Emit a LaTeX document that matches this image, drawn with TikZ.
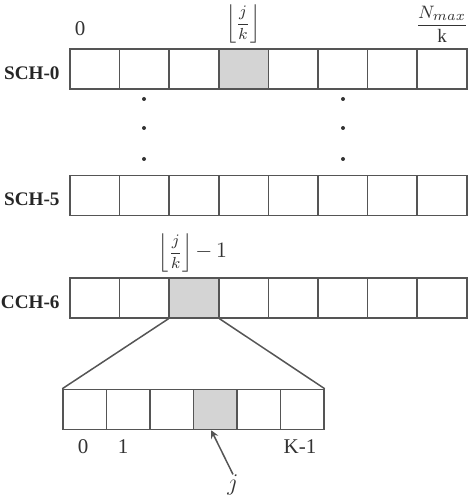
\documentclass[tikz,border=0pt]{standalone}
\usepackage{amsmath}
\usepackage{fontspec}
\setmainfont{Liberation Serif}
\usepackage{tikz}
\usetikzlibrary{arrows}
\usetikzlibrary{shapes,positioning,calc}
\definecolor{linegray}{RGB}{85,85,85}
\definecolor{cellgray}{RGB}{212,212,212}
\tikzstyle{cell} = [rectangle, minimum width=24.8pt, minimum height=20pt, inner sep=0pt, draw=linegray, line width=0.75pt]
\tikzstyle{subcell} = [cell, minimum width=21.75pt]
\tikzstyle{chname} = [anchor=east, font=\fontsize{9.6}{11}\selectfont\bfseries, text=black!85, inner sep=0pt]
\tikzstyle{idx} = [text=black!80, inner sep=0pt, font=\fontsize{10.5}{12}\selectfont]
\tikzstyle{mathlab} = [idx, font=\fontsize{8}{10}\selectfont]

\begin{document}
\begin{tikzpicture}[x=0.5pt, y=-0.5pt]
				\useasboundingbox (0,0) rectangle (474,496);
				% channel rows
				\foreach \i in {0,...,7} {
					\node[cell] (s0-\i) at (94.8+49.6*\i,69) {};
					\node[cell] (s5-\i) at (94.8+49.6*\i,195.5) {};
					\node[cell] (c6-\i) at (94.8+49.6*\i,298) {};
				}
				\node[cell, fill=cellgray] at (s0-3) {};
				\node[cell, fill=cellgray] at (c6-2) {};
				
				\node[chname] (sch0) at (60,73) {SCH-0};
				\node[chname] (sch5) at (60,199) {SCH-5};
				\node[chname] (cch6) at (60,302) {CCH-6};
				
				% vertical dots
				\foreach \y in {99,128,159} {
					\fill[black!80] (144,\y) circle (1pt);
					\fill[black!80] (343,\y) circle (1pt);
				}
				
				\node[idx] (lab0) at (80,29) {0};
				\node[mathlab] (labj) at (243,24) {$\biggl\lfloor \dfrac{j}{k} \biggr\rfloor$};
				\node[mathlab, font=\fontsize{9.5}{11}\selectfont] (labn) at (442,24) {$\dfrac{N_{max}}{\mathrm{k}}$};
				\node[mathlab] (labj1) at (193,253) {$\biggl\lfloor \dfrac{j}{k} \biggr\rfloor$\,{\fontsize{11}{12}\selectfont$-\,1$}};
				
				% zoomed slot
				\foreach \i in {0,...,5}
					\node[subcell] (b-\i) at (84.75+43.5*\i,409.5) {};
				\node[subcell, fill=cellgray] at (b-3) {};
				\draw[linegray, line width=0.75pt] (c6-2.south west) -- (b-0.north west);
				\draw[linegray, line width=0.75pt] (c6-2.south east) -- (b-5.north east);
				
				\node[idx] (sub0) at (83,447) {0};
				\node[idx] (sub1) at (123,447) {1};
				\node[idx] (subk) at (300,447) {K-1};
				
				\node[idx, font=\fontsize{12}{14}\selectfont] (jj) at (233,485) {$j$};
				\draw[-stealth, linegray, line width=0.75pt] (jj.north) -- ($(b-3.south)+(-4,0)$);
			\end{tikzpicture}
\end{document}
